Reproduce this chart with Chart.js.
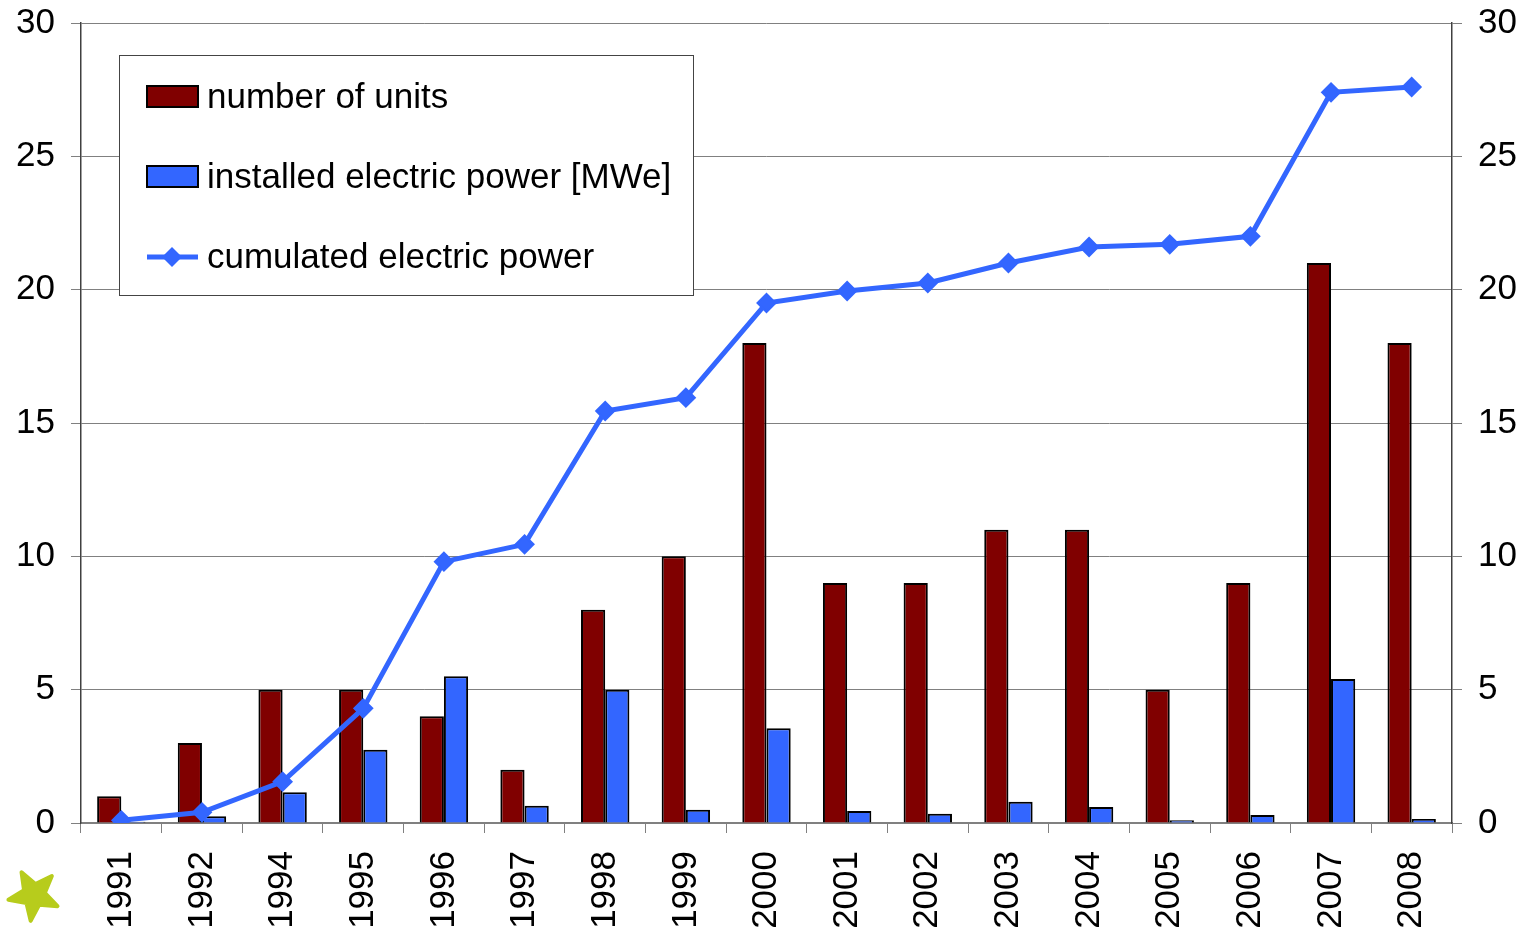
<!DOCTYPE html>
<html lang="en">

<head>
    <meta charset="UTF-8">
    <title>Units and electric power</title>
    <script src="https://cdn.jsdelivr.net/npm/chart.js"></script>
    <style>
        body { margin: 0; background: #fff; overflow: hidden; }
        #wrap { width: 1524px; height: 927px; position: relative; overflow: hidden; }
        #inner { position: absolute; left: 0; top: -14px; width: 1524px; height: 941px; }
    </style>
</head>

<body>
    <div id="wrap">
        <div id="inner">
            <canvas id="myChart"></canvas>
        </div>
    </div>

    <script>
        const years = ['1991', '1992', '1994', '1995', '1996', '1997', '1998', '1999', '2000',
            '2001', '2002', '2003', '2004', '2005', '2006', '2007', '2008'];
        const units = [1, 3, 5, 5, 4, 2, 8, 10, 18, 9, 9, 11, 11, 5, 9, 21, 18];
        const power = [0.05, 0.25, 1.15, 2.75, 5.5, 0.65, 5.0, 0.5, 3.55, 0.45, 0.35, 0.8, 0.6, 0.1, 0.3, 5.4, 0.15];
        const cumulated = [0.1, 0.4, 1.55, 4.3, 9.8, 10.45, 15.45, 15.95, 19.5, 19.95, 20.25, 21.0, 21.6, 21.7, 22.0, 27.4, 27.6];
        const yTicks = [0, 5, 10, 15, 20, 25, 30];

        const RED = '#800000';
        const BLUE = '#3366FF';
        const FONT = { family: 'Liberation Sans, Arial, sans-serif', size: 35 };
        const SHIFT = 14; // canvas sits 14px above the page top

        // legend box drawn inside the plot area
        const boxLegend = {
            id: 'boxLegend',
            afterDraw(chart) {
                const ctx = chart.ctx;
                ctx.save();
                ctx.translate(0, SHIFT);
                ctx.fillStyle = '#fff';
                ctx.fillRect(119.5, 55.5, 574, 240);
                ctx.strokeStyle = '#444';
                ctx.lineWidth = 1;
                ctx.strokeRect(119.5, 55.5, 574, 240);

                ctx.font = '35px "Liberation Sans", Arial, sans-serif';
                ctx.textBaseline = 'middle';
                ctx.fillStyle = '#000';
                const rows = [97, 177, 257];
                chart.data.datasets.forEach((ds, i) => {
                    const y = rows[i];
                    if (ds.type === 'line') {
                        ctx.strokeStyle = ds.borderColor;
                        ctx.lineWidth = 5;
                        ctx.beginPath();
                        ctx.moveTo(147, y);
                        ctx.lineTo(198, y);
                        ctx.stroke();
                        ctx.fillStyle = ds.borderColor;
                        ctx.beginPath();
                        ctx.moveTo(172, y - 10);
                        ctx.lineTo(182, y);
                        ctx.lineTo(172, y + 10);
                        ctx.lineTo(162, y);
                        ctx.closePath();
                        ctx.fill();
                    } else {
                        ctx.fillStyle = ds.backgroundColor;
                        ctx.fillRect(147, y - 11, 51, 21);
                        ctx.strokeStyle = '#000';
                        ctx.lineWidth = 2;
                        ctx.strokeRect(147, y - 11, 51, 21);
                    }
                    ctx.fillStyle = '#000';
                    ctx.fillText(ds.label, 207, y + 1);
                });

                // little green star logo in the bottom left corner of the slide
                ctx.fillStyle = '#b7cc1c';
                ctx.lineJoin = 'round';
                ctx.strokeStyle = '#b7cc1c';
                ctx.lineWidth = 4;
                ctx.beginPath();
                const cx = 34, cy = 895;
                for (let k = 0; k < 10; k++) {
                    const r = k % 2 === 0 ? 26 : 11;
                    const a = -Math.PI / 2 + k * Math.PI / 5 - 0.5;
                    const px = cx + r * Math.cos(a), py = cy + r * Math.sin(a);
                    if (k === 0) ctx.moveTo(px, py); else ctx.lineTo(px, py);
                }
                ctx.closePath();
                ctx.fill();
                ctx.stroke();
                ctx.restore();
            }
        };

        const ctx = document.getElementById('myChart');
        const myChart = new Chart(ctx, {
            type: 'bar',
            data: {
                labels: years,
                datasets: [
                    {
                        label: 'number of units',
                        data: units,
                        backgroundColor: RED,
                        borderColor: '#000',
                        borderWidth: 2,
                        order: 1
                    },
                    {
                        label: 'installed electric power [MWe]',
                        data: power,
                        backgroundColor: BLUE,
                        borderColor: '#000',
                        borderWidth: 2,
                        order: 1
                    },
                    {
                        type: 'line',
                        label: 'cumulated electric power',
                        data: cumulated,
                        borderColor: BLUE,
                        backgroundColor: BLUE,
                        borderWidth: 5,
                        pointStyle: 'rectRot',
                        pointRadius: 9,
                        pointBorderWidth: 2,
                        tension: 0,
                        order: 0
                    }
                ]
            },
            options: {
                responsive: true,
                maintainAspectRatio: false,
                animation: false,
                datasets: {
                    bar: { categoryPercentage: 0.6, barPercentage: 1.0 }
                },
                layout: { padding: { top: 8, left: 0, right: 0, bottom: 0 } },
                plugins: {
                    legend: { display: false },
                    tooltip: { enabled: false }
                },
                scales: {
                    x: {
                        offset: true,
                        grid: { offset: true, drawOnChartArea: false, tickLength: 10, color: '#808080' },
                        border: { color: '#808080', width: 1.5 },
                        ticks: {
                            font: FONT, color: '#000', padding: 18,
                            minRotation: 90, maxRotation: 90, autoSkip: false
                        },
                        afterFit: s => { s.height = 104; }
                    },
                    y: {
                        min: 0, max: 30,
                        afterBuildTicks: s => { s.ticks = yTicks.map(v => ({ value: v })); },
                        grid: { color: '#808080', tickLength: 10 },
                        border: { color: '#404040', width: 1.5 },
                        ticks: { font: FONT, color: '#000', padding: 16 },
                        afterFit: s => { s.width = 81; }
                    },
                    y1: {
                        position: 'right',
                        min: 0, max: 30,
                        afterBuildTicks: s => { s.ticks = yTicks.map(v => ({ value: v })); },
                        grid: { drawOnChartArea: false, color: '#808080', tickLength: 10 },
                        border: { color: '#404040', width: 1.5 },
                        ticks: { font: FONT, color: '#000', padding: 16 },
                        afterFit: s => { s.width = 72; }
                    }
                }
            },
            plugins: [boxLegend]
        });
    </script>
</body>

</html>
